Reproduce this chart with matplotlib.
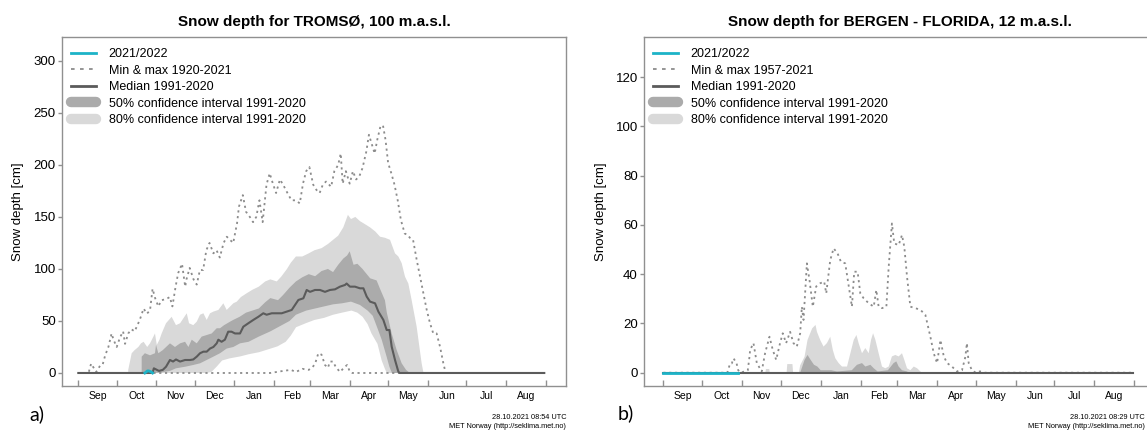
import matplotlib.pyplot as plt
from matplotlib.lines import Line2D

plt.rcParams['font.family'] = ['Liberation Sans', 'DejaVu Sans']

months = ['Sep', 'Oct', 'Nov', 'Dec', 'Jan', 'Feb', 'Mar', 'Apr', 'May', 'Jun', 'Jul', 'Aug']
month_len = [30, 31, 30, 31, 31, 28, 31, 30, 31, 30, 31, 31]

# (day since 1 Sep, snow depth cm)
tromso_max = [(0, 0), (8, 0), (10, 9), (14, 1), (17, 7), (19, 8), (21, 17), (23.5, 25), (26, 38), (27.5, 32),
              (30, 25), (32.5, 34), (35, 40), (36.5, 28), (39, 38), (41.5, 42), (44, 40), (48, 51), (51, 62),
              (53.5, 57), (56, 60), (58, 81), (60, 72), (62.5, 64), (65, 70), (68.5, 71), (71.5, 73), (73.5, 64),
              (76, 83), (78, 96), (81, 105), (83.5, 83), (84.5, 90), (87, 101), (90, 90), (92.5, 85), (95, 99),
              (97.5, 99), (100, 118), (102.5, 125), (105.5, 115), (108, 118), (110.5, 111), (113.5, 125),
              (116, 131), (118.5, 128), (121, 125), (124, 144), (125.5, 160), (128.5, 171), (131, 155),
              (134, 150), (136.5, 145), (139, 150), (141.5, 166), (144, 145), (147, 181), (149.5, 192),
              (152, 182), (154.5, 173), (157.5, 186), (160, 181), (162.5, 175), (166.5, 166), (170, 166),
              (173, 163), (175.5, 182), (178, 194), (180.5, 198), (183.5, 181), (186, 176), (188.5, 173),
              (191, 181), (193.5, 184), (197.5, 179), (200, 194), (203, 200), (205, 211), (206.5, 182),
              (209, 194), (212, 182), (214.5, 194), (217, 186), (219.5, 189), (222, 197), (225, 213),
              (227, 229), (229, 221), (231.5, 211), (233.5, 224), (236, 237), (238, 238), (240, 224),
              (242, 202), (244.5, 192), (247, 181), (249.5, 166), (252, 147), (255, 134), (257, 133),
              (259, 130), (261.5, 128), (264.3, 109), (266.9, 93), (269.5, 77), (272.1, 61), (274.7, 48),
              (277.3, 38), (279.9, 38), (282.6, 25), (285.2, 9), (287, 0), (364, 0)]
tromso_min = [(0, 0), (150, 0), (160, 2), (166, 3), (170, 1), (175, 4), (180, 3), (183, 5.6), (185, 9),
              (187.5, 19), (190, 17.6), (192.7, 7.7), (195, 5), (196.6, 11), (199, 11), (201, 6), (204.4, 1),
              (208.3, 6), (210, 7.7), (212.2, 1), (214, 0), (364, 0)]
tromso_median = [(0, 0), (58, 0), (59, 4.5), (63, 2), (66, 3), (68.5, 6), (71.6, 12.5), (74, 11), (76.3, 13),
                 (79.5, 11), (83.4, 12.5), (87.3, 12.5), (89.8, 13), (92.5, 15.7), (95.1, 19), (97.7, 20.5),
                 (100.3, 20.5), (102.9, 23.5), (105.5, 25), (108.1, 28.5), (109.4, 32), (111.9, 30),
                 (114.5, 32), (117.1, 39.7), (119.7, 39.7), (122.4, 38), (126.3, 38), (128.9, 44.5),
                 (132.8, 47.8), (136.7, 51), (140.6, 54), (144.5, 57.4), (147.1, 56), (151.1, 57.4),
                 (155, 57.4), (158.9, 57.4), (162.8, 59), (166.7, 60.6), (169.3, 65.4), (171.9, 70.2),
                 (175.8, 71.8), (178.4, 79.8), (181, 78), (184.9, 79.8), (188.8, 79.8), (192.7, 78),
                 (196.6, 79.8), (200.5, 80.4), (204.4, 83), (208.3, 84.6), (209.6, 86), (212.2, 83),
                 (216.1, 83), (220, 81.4), (222.7, 81.4), (225.3, 73.4), (227.9, 68.6), (231.8, 67),
                 (234.4, 59), (238.3, 51), (240.9, 41.3), (243, 41.3), (244.8, 25.3), (247.4, 12.5),
                 (250, 1.3), (251, 0), (364, 0)]
tromso_p50_hi = [(49.5, 0), (49.5, 15.7), (52, 19), (56, 17), (59.9, 19), (60.7, 27), (62.5, 19), (66, 22),
                 (71.6, 28.5), (75.5, 25), (79.5, 28.5), (83.4, 30), (86, 25), (88.6, 32), (92.5, 28.5),
                 (96.4, 35), (100.3, 36.5), (104.2, 38), (108.1, 43), (110.7, 43), (113.9, 46), (118.5, 49.3),
                 (121, 51), (126, 54), (131, 58), (136, 60), (141, 62), (146, 68), (150, 72), (156, 70),
                 (160, 75), (165, 82), (170, 88), (175, 92), (180, 95), (185, 93), (190, 98), (195, 100),
                 (199, 97), (203, 104), (207, 110), (210, 113), (212, 117), (215, 104), (218, 105), (222, 100),
                 (228, 91), (233, 89), (236, 80), (239.5, 70), (241, 58), (244.8, 38), (248.7, 22),
                 (252.6, 9.3), (256, 3), (259, 0)]
tromso_p50_lo = [(59, 0), (65, 0.6), (71.6, 2), (76.3, 4.5), (83.4, 6), (89.8, 7.7), (95.1, 9.3), (100.3, 12.5),
                 (105.5, 15.7), (110.7, 19), (115.9, 23.5), (121.1, 25), (126.3, 28.5), (133, 30), (141, 35),
                 (150, 40), (156, 44), (165, 50), (170, 56), (178, 60), (185, 62), (192, 64), (199, 66),
                 (206, 67), (213, 68.6), (220, 65.4), (226, 60), (230, 55), (234, 42), (237, 32), (241, 15),
                 (243, 6), (245, 0)]
tromso_p80_hi = [(39, 0), (39, 3), (40, 9), (41.7, 19), (44, 22), (46.9, 25), (49, 28.5), (51, 30), (53.8, 25),
                 (56, 28.5), (59.9, 38), (61.3, 27), (63.4, 32), (65.1, 38), (68.5, 47.8), (72.9, 54),
                 (76.3, 46), (79.5, 47.8), (84.7, 57.4), (86.5, 47.8), (89.8, 46), (92.5, 49.3), (95.1, 56),
                 (97.7, 57.4), (100.3, 51), (102.9, 57.4), (105.5, 59), (109.4, 60.6), (113.3, 67),
                 (115.9, 60.6), (118.5, 63.8), (121.1, 67), (123.8, 68.6), (127, 73), (132, 77), (136, 80),
                 (141, 83), (146, 88), (150, 90), (155, 88), (158.5, 92.6), (163, 100), (166, 106), (170, 112),
                 (175, 112), (180, 115), (184.5, 118), (190, 120), (195, 124), (199, 128), (203, 132),
                 (207, 140), (210.6, 152), (213, 148), (216.4, 150), (220, 146), (224, 143), (227.9, 140),
                 (232, 136), (235.7, 131), (239.5, 130), (243.5, 128), (247.4, 115), (250, 112),
                 (252.6, 105.6), (255.2, 92.6), (257.8, 86), (260.4, 70), (264.3, 44.5), (268.2, 9.3),
                 (269.5, 1), (270, 0)]
tromso_p80_lo = [(100, 0), (104, 1), (108, 6), (112.3, 12), (118, 14), (126.7, 16), (133, 18), (141.2, 20),
                 (149, 23), (155.6, 25.6), (162, 30), (166, 36), (170.1, 44), (178, 48), (184.5, 51), (192, 53),
                 (199, 56), (206, 58), (213.4, 60), (218, 58), (222.1, 54), (226, 47), (229, 38), (233.7, 28),
                 (237, 12), (239.5, 4), (241, 0)]
tromso_now = [(52, 0), (53, 1), (54, 2), (55, 2), (56, 1.5), (57, 1), (58, 0)]

bergen_max = [(0, 0), (49.6, 0), (50, 1), (51.8, 3.8), (53, 3.8), (54.4, 5.8), (56.7, 3.8), (58, 1), (60, 0),
              (65.4, 1), (66.7, 6.4), (67.2, 9.2), (69.8, 12), (72.4, 3.9), (76.2, 0.5), (78.8, 7.9),
              (82.2, 14.6), (84.8, 9.2), (87.4, 5.2), (90.4, 12), (92.5, 16), (95.1, 12), (98.2, 16.6),
              (100.8, 12), (103.4, 10.6), (106, 16), (107.3, 26.8), (108.6, 21.4), (111.2, 44.4),
              (113.2, 37.7), (115.8, 26.8), (118.4, 35), (121.5, 36.3), (124.6, 37), (126.2, 32.2),
              (129.3, 45.7), (131.9, 50.5), (135, 48.4), (137.6, 45), (140.9, 44.4), (143.5, 35.6),
              (146.1, 26.8), (147.9, 41), (150.5, 41), (152.6, 32.2), (155.2, 30.2), (159.1, 28.2),
              (163, 26.8), (165, 33.6), (166.8, 26.8), (169.4, 26.2), (172.8, 26.8), (174.6, 43),
              (177.1, 60.6), (178.9, 52.5), (182.3, 51.8), (184.9, 55.9), (186.7, 51.1), (188.8, 39),
              (191.4, 26.8), (195.3, 26.2), (199.2, 25.5), (203, 23.5), (206.9, 14.6), (209.5, 7.9),
              (212.1, 3.9), (214.7, 13.3), (217.3, 6.6), (219.9, 3.9), (223.6, 2.5), (227.5, 0.5),
              (231.4, 1), (234, 6.4), (235.2, 12), (236.6, 3.9), (239.1, 1), (242, 0), (244, 0.5),
              (247, 0.5), (249, 0), (364, 0)]
bergen_min = [(0, 0), (364, 0)]
bergen_median = [(0, 0), (364, 0)]
bergen_p50_hi = [(106, 0), (107, 1.5), (109.4, 5.2), (111.7, 7.2), (114.1, 5.2), (116.7, 3.2), (119.3, 2.5),
                 (121.9, 1), (130, 1), (134.5, 0.5), (146, 1), (150, 3.2), (153.9, 3.9), (156.5, 2.5),
                 (160.4, 3.2), (163, 1.8), (166, 0.5), (174, 1), (178.4, 3.9), (180.5, 4.6), (182.3, 2.5),
                 (184.9, 1), (188.8, 0.5), (190, 0)]
bergen_p50_lo = [(0, 0), (364, 0)]
bergen_p80_hi = [(79, 0), (79.5, 1.5), (82, 1.5), (82.5, 0), (95.5, 0), (96, 3.5), (100, 3.5), (100.5, 0),
                 (105, 0), (106, 3), (109.4, 6.5), (111.7, 13.3), (112.7, 14.6), (115.3, 18), (117.9, 19.4),
                 (119, 16.6), (121.5, 13.3), (124.1, 10.6), (126.7, 12), (129.3, 14.6), (131.3, 9.2),
                 (133.2, 5.9), (135.8, 3.9), (138.4, 2.5), (142.3, 2.5), (144.9, 7.9), (147.5, 13.3),
                 (149.6, 15.3), (151.3, 12), (153.9, 7.9), (156.5, 10), (159.1, 7.9), (160.9, 13.3),
                 (162.5, 16), (164.3, 13.3), (166.8, 7.9), (169.4, 2.5), (172, 1.8), (174.6, 2.5),
                 (177.1, 6.6), (179.7, 7.2), (182.3, 6.6), (184.9, 7.9), (186.7, 5.2), (188.8, 1.8),
                 (191.4, 1), (194, 2.5), (196.6, 1.8), (199.2, 0.5), (200, 0)]
bergen_p80_lo = [(0, 0), (364, 0)]
bergen_now = [(0, 0), (58, 0)]

CYAN = '#1db3c7'
MED = '#5b5b5b'
MINMAX = '#8c8c8c'
CI50 = '#ababab'
CI80 = '#d9d9d9'
SPINE = '#909090'


def xy(pts):
    return [p[0] for p in pts], [p[1] for p in pts]


def band(ax, hi, lo, color):
    hx, hy = xy(hi)
    lx, ly = xy(lo)
    ax.fill(hx + lx[::-1], hy + ly[::-1], color=color, lw=0, zorder=1)


def panel(ax, title, period, series, xlim, ylim, yticks, label_x):
    mx, mn, med, p50h, p50l, p80h, p80l, now = series
    band(ax, p80h, p80l, CI80)
    band(ax, p50h, p50l, CI50)
    dots = (0, (1.2, 2.0))
    ax.plot(*xy(mx), color=MINMAX, lw=1.3, ls=dots, zorder=2)
    ax.plot(*xy(mn), color=MINMAX, lw=1.3, ls=dots, zorder=2)
    ax.plot(*xy(med), color=MED, lw=1.5, zorder=3)
    ax.plot(*xy(now), color=CYAN, lw=2, zorder=4)

    ax.set_xlim(*xlim)
    ax.set_ylim(*ylim)
    bounds = [0]
    for m in month_len:
        bounds.append(bounds[-1] + m)
    mids = [(bounds[i] + bounds[i + 1]) / 2 for i in range(12)]
    ax.set_xticks(bounds)
    ax.set_xticklabels([])
    ax.set_xticks(mids, minor=True)
    ax.set_xticklabels(months, minor=True)
    ax.tick_params(axis='x', which='major', direction='in', length=4, width=1, color=SPINE)
    ax.tick_params(axis='x', which='minor', length=0, labelsize=7.5, pad=3.5)
    ax.set_yticks(yticks)
    ax.tick_params(axis='y', direction='out', length=3, width=1, color=SPINE, labelsize=9.5, pad=1.5)
    for s in ax.spines.values():
        s.set_color(SPINE)
        s.set_linewidth(1)

    ax.set_title(title, fontsize=11, fontweight='bold', pad=8)
    ax.set_ylabel('Snow depth [cm]', fontsize=9.5)
    ax.yaxis.set_label_coords(label_x, 0.5)

    handles = [Line2D([], [], color=CYAN, lw=2),
               Line2D([], [], color=MINMAX, lw=1.3, ls=(0, (2, 3))),
               Line2D([], [], color=MED, lw=2),
               Line2D([], [], color=CI50, lw=7.5, solid_capstyle='round'),
               Line2D([], [], color=CI80, lw=7.5, solid_capstyle='round')]
    labels = ['2021/2022', 'Min & max ' + period, 'Median 1991-2020',
              '50% confidence interval 1991-2020', '80% confidence interval 1991-2020']
    ax.legend(handles, labels, loc='upper left', bbox_to_anchor=(0.018, 0.968), frameon=False,
              fontsize=9, handlelength=2.0, handletextpad=1.0, labelspacing=0.36,
              borderpad=0, borderaxespad=0)


fig = plt.figure(figsize=(11.47, 4.32), dpi=100)
ax1 = fig.add_axes([0.0541, 0.1065, 0.4394, 0.8079])
ax2 = fig.add_axes([0.5615, 0.1065, 0.4455, 0.8079])

panel(ax1, 'Snow depth for TROMSØ, 100 m.a.s.l.', '1920-2021',
      [tromso_max, tromso_min, tromso_median, tromso_p50_hi, tromso_p50_lo, tromso_p80_hi, tromso_p80_lo,
       tromso_now],
      (-12.7, 381), (-12.5, 323), list(range(0, 301, 50)), -0.075)
panel(ax2, 'Snow depth for BERGEN - FLORIDA, 12 m.a.s.l.', '1957-2021',
      [bergen_max, bergen_min, bergen_median, bergen_p50_hi, bergen_p50_lo, bergen_p80_hi, bergen_p80_lo,
       bergen_now],
      (-15, 381), (-5.4, 136.3), list(range(0, 121, 20)), -0.073)

fig.text(0.4935, 0.0347, '28.10.2021 08:54 UTC', ha='right', va='center', fontsize=5.3)
fig.text(0.4935, 0.0116, 'MET Norway (http://seklima.met.no)', ha='right', va='center', fontsize=5.3)
fig.text(0.998, 0.0347, '28.10.2021 08:29 UTC', ha='right', va='center', fontsize=5.3)
fig.text(0.998, 0.0116, 'MET Norway (http://seklima.met.no)', ha='right', va='center', fontsize=5.3)
fig.text(0.0323, 0.0417, 'a)', ha='center', va='center', fontsize=14, family=['Lato', 'DejaVu Sans'])
fig.text(0.5458, 0.0440, 'b)', ha='center', va='center', fontsize=14, family=['Lato', 'DejaVu Sans'])

fig.savefig('out.png', dpi=100, facecolor='white')
